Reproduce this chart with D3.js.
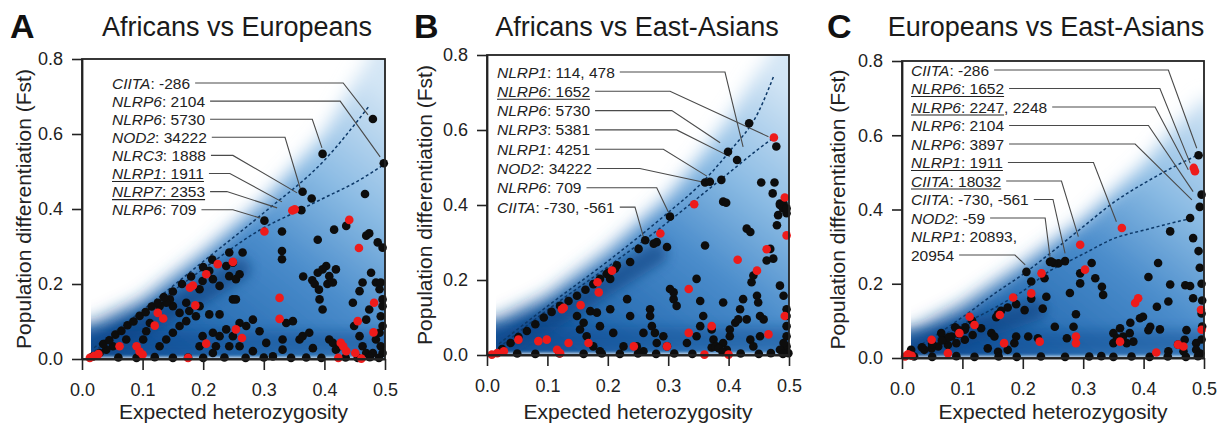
<!DOCTYPE html>
<html>
<head>
<meta charset="utf-8">
<script src="https://cdn.jsdelivr.net/npm/d3@7"></script>
<style>
  body { margin: 0; background: #fff; }
  text { font-family: "Liberation Sans", Arial, sans-serif; }
</style>
</head>
<body>
<svg id="fig" width="1225" height="439"></svg>
<script>
// ---- data ----
var ticksX = [0, 0.1, 0.2, 0.3, 0.4, 0.5];
var ticksY = [0, 0.2, 0.4, 0.6, 0.8];
var letters = ['A', 'B', 'C'];
var titles = ['Africans vs Europeans', 'Africans vs East-Asians', 'Europeans vs East-Asians'];
var xLabel = 'Expected heterozygosity';
var yLabel = 'Population differentiation (Fst)';

// [He, Fst]
var blackA = [[.301,.369],[.362,.397],[.330,.340],[.330,.288],[.330,.266],[.389,.318],[.416,.345],[.436,.355],[.469,.329],[.474,.335],[.488,.311],[.496,.297],[.365,.220],[.380,.210],[.384,.200],[.389,.230],[.391,.185],[.405,.200],[.397,.547],[.480,.640],[.498,.522],[.364,.446],[.379,.428],[.467,.440],
  [.243,.284],[.249,.257],[.265,.284],[.238,.248],[.243,.221],[.254,.213],[.260,.226],[.227,.195],[.199,.208],[.210,.235],[.194,.186],[.216,.213],[.172,.150],[.177,.128],[.194,.141],[.188,.114],[.161,.123],[.150,.141],[.145,.159],[.139,.150],[.128,.141],[.112,.096],[.106,.074],[.101,.052],[.128,.034],[.139,.052],[.150,.070],[.161,.088],[.172,.101],[.073,.052],[.051,.034],[.040,.025],[.029,.016],[.018,.007],
  [.210,.119],[.227,.119],[.249,.159],[.254,.159],[.260,.096],[.271,.088],[.282,.105],[.293,.074],[.216,.070],[.227,.061],[.238,.079],[.249,.061],[.221,.034],[.243,.034],[.260,.034],[.199,.061],[.194,.034],[.216,.016],[.282,.021],[.304,.043],[.315,.007],[.331,.052],[.331,.025],[.348,.101],[.359,.052],[.364,.061],[.375,.070],[.381,.029],[.392,.159],[.397,.132],[.408,.052],[.414,.043],[.419,.025],[.425,.034],
  [.447,.150],[.458,.181],[.463,.204],[.469,.105],[.474,.132],[.477,.230],[.485,.204],[.491,.186],[.485,.052],[.491,.070],[.493,.034],[.496,.016],[.496,.088],[.493,.114],[.496,.141],[.496,.159],[.493,.204],[.449,.088],[.458,.061],[.463,.034],[.469,.016],[.480,.016],[.408,.221],[.414,.204],[.419,.239],[.403,.248],[.397,.239],[.337,.096],
  [.035,.040],[.045,.050],[.055,.065],[.065,.075],[.075,.090],[.085,.100],[.095,.115],[.105,.125],[.115,.140],[.125,.150],[.135,.165],[.150,.180],[.165,.200],[.180,.220],[.200,.245],[.215,.265],
  [.060,.004],[.090,.003],[.120,.005],[.150,.003],[.175,.004],[.200,.003],[.235,.004],[.270,.003],[.300,.004],[.345,.003],[.370,.004],[.395,.003],[.435,.004],[.455,.003],[.475,.005],[.490,.003]];
var redA = [[.301,.340],[.347,.396],[.351,.399],[.441,.371],[.457,.296],[.326,.163],[.326,.107],[.187,.143],[.205,.226],[.224,.253],[.249,.259],[.183,.196],[.178,.190],[.125,.123],[.134,.108],[.120,.089],[.254,.079],[.264,.056],[.205,.041],[.455,.101],[.482,.150],[.481,.071],[.427,.043],[.431,.034],[.436,.021],[.451,.016],[.062,.034],[.090,.034],[.095,.020],[.100,.012],[.013,.003],[.020,.008],[.027,.013],[.175,.003],[.423,.003],[.461,.001]];

var blackB = [[.434,.618],[.399,.542],[.414,.520],[.479,.556],[.361,.460],[.369,.462],[.388,.467],[.454,.460],[.476,.460],[.473,.431],[.391,.409],[.396,.406],[.485,.404],[.490,.391],[.496,.378],
  [.303,.369],[.298,.288],[.281,.301],[.276,.297],[.262,.306],[.251,.283],[.237,.248],[.215,.239],[.204,.203],[.212,.230],[.201,.220],
  [.025,.016],[.039,.032],[.052,.048],[.066,.064],[.080,.082],[.094,.100],[.107,.115],[.121,.131],[.135,.144],[.149,.158],[.163,.174],[.176,.189],[.187,.203],[.198,.216],
  [.149,.104],[.160,.086],[.154,.068],[.165,.050],[.176,.023],[.187,.010],[.171,.117],[.182,.113],[.204,.122],[.187,.077],[.209,.059],[.232,.149],[.237,.104],[.259,.059],[.248,.023],[.259,.010],[.226,.023],
  [.270,.122],[.270,.104],[.273,.077],[.278,.059],[.281,.032],[.292,.050],[.298,.023],[.309,.149],[.314,.131],[.309,.167],[.303,.176],
  [.331,.032],[.347,.050],[.353,.077],[.358,.104],[.361,.292],[.372,.068],[.375,.041],[.380,.023],[.391,.032],[.397,.014],[.402,.050],[.347,.203],[.353,.144],
  [.391,.140],[.402,.068],[.411,.086],[.416,.095],[.419,.122],[.424,.149],[.430,.095],[.436,.041],[.441,.023],[.452,.050],
  [.430,.337],[.436,.328],[.438,.194],[.441,.212],[.447,.158],[.449,.140],[.452,.104],[.458,.095],[.463,.252],
  [.480,.346],[.482,.373],[.485,.400],[.491,.404],[.496,.391],
  [.485,.185],[.491,.158],[.496,.122],[.496,.104],[.496,.077],[.496,.050],[.496,.023],[.499,.005],[.491,.032],[.485,.014],[.469,.283],[.474,.257],
  [.050,.004],[.080,.003],[.120,.004],[.160,.003],[.190,.004],[.220,.003],[.250,.004],[.280,.003],[.310,.004],[.340,.003],[.372,.020],[.378,.022],[.384,.018],[.390,.008],[.420,.004],[.450,.003],[.470,.005],[.490,.003]];
var redB = [[.475,.580],[.343,.402],[.493,.420],[.287,.324],[.496,.319],[.415,.254],[.447,.225],[.463,.282],[.334,.176],[.183,.194],[.185,.167],[.207,.225],[.127,.126],[.124,.122],[.155,.133],[.168,.032],[.085,.037],[.099,.041],[.116,.014],[.121,.005],[.135,.032],[.052,.041],[.243,.023],[.298,.023],[.334,.059],[.372,.077],[.466,.055],[.493,.104],[.028,.010],[.017,.005],[.008,.001],[.360,.001],[.400,.001]];

var blackC = [[.491,.546],[.496,.440],[.493,.407],[.477,.377],[.444,.341],[.482,.323],[.491,.288],[.493,.243],[.424,.256],[.408,.218],[.444,.198],[.469,.196],[.477,.194],[.482,.161],[.441,.152],[.422,.138],[.394,.107],[.399,.111],[.378,.095],[.411,.084],[.408,.075],[.427,.077],
  [.361,.080],[.350,.067],[.356,.053],[.366,.058],[.377,.067],[.383,.044],[.350,.040],[.372,.040],
  [.314,.256],[.295,.228],[.320,.215],[.295,.201],[.331,.192],[.333,.170],[.278,.175],[.288,.118],[.284,.084],[.273,.053],[.253,.084],[.270,.261],[.259,.255],[.251,.256],[.245,.259],
  [.471,.075],[.468,.049],[.487,.040],[.457,.036],[.487,.022],[.441,.018],[.466,.018],
  [.496,.200],[.497,.155],[.496,.120],[.497,.085],[.496,.050],[.494,.012],
  [.247,.260],[.206,.232],[.214,.206],[.236,.215],[.239,.165],[.233,.133],[.214,.160],[.203,.129],[.189,.145],[.175,.136],[.164,.127],[.159,.118],[.156,.110],
  [.131,.080],[.117,.062],[.104,.049],[.090,.040],[.076,.035],[.060,.031],[.049,.026],[.037,.022],[.015,.022],[.082,.058],[.071,.049],[.093,.076],[.104,.076],[.065,.067],
  [.142,.026],[.159,.017],[.175,.022],[.186,.040],[.189,.058],[.209,.058],[.225,.053],[.148,.067],[.153,.058],
  [.094,.065],[.077,.056],[.066,.047],[.105,.083],[.116,.101],[.088,.083],[.050,.038],[.033,.029],
  [.020,.004],[.050,.003],[.090,.005],[.120,.003],[.160,.004],[.190,.003],[.230,.004],[.270,.003],[.310,.004],[.330,.005],[.350,.003],[.380,.004],[.410,.003],[.440,.004],[.470,.003],[.490,.005]];
var redC = [[.483,.512],[.485,.503],[.364,.350],[.295,.305],[.303,.238],[.386,.148],[.391,.161],[.288,.058],[.288,.040],[.361,.044],[.421,.015],[.457,.036],[.466,.031],[.495,.130],[.496,.076],
  [.231,.228],[.214,.174],[.184,.163],[.162,.116],[.112,.111],[.120,.089],[.095,.067],[.076,.013],[.049,.049],[.169,.040],[.228,.044],[.010,.010],[.016,.006],[.005,.004]];

// dashed guide curves
var hiA = [[.02,.03],[.1,.13],[.2,.26],[.3,.39],[.4,.53],[.474,.675]];
var loA = [[.02,.02],[.1,.12],[.2,.24],[.3,.35],[.35,.39],[.4,.43],[.45,.47],[.5,.52]];
var hiB = [[.02,.03],[.1,.13],[.2,.25],[.3,.38],[.35,.45],[.4,.54],[.45,.65],[.475,.745]];
var loB = [[.02,.02],[.1,.12],[.2,.235],[.3,.355],[.35,.42],[.4,.485],[.45,.55],[.475,.58]];
var hiC = [[.01,.015],[.05,.055],[.1,.11],[.159,.18],[.2,.225],[.243,.279],[.298,.351],[.353,.422],[.4,.47],[.45,.515],[.485,.543]];
var loC = [[.01,.012],[.05,.045],[.1,.09],[.159,.14],[.2,.18],[.247,.237],[.278,.262],[.3,.28],[.351,.322],[.405,.346],[.45,.365],[.474,.374]];

// upper edge of the blue density and its dark ridge
var edgeA = [[.015,.09],[.1,.155],[.2,.28],[.3,.42],[.4,.60],[.45,.74],[.5,.88]];
var edgeB = [[.015,.09],[.1,.155],[.2,.275],[.3,.42],[.35,.52],[.4,.63],[.45,.76],[.5,.88]];
var edgeC = [[.015,.07],[.1,.14],[.2,.25],[.3,.37],[.4,.52],[.45,.62],[.5,.70]];
var ridgeA = [[.02,.015],[.1,.09],[.2,.18],[.26,.24]];
var ridgeB = [[.02,.015],[.1,.09],[.2,.19],[.28,.27]];
var ridgeC = [[.02,.015],[.08,.05],[.15,.09],[.22,.13]];

// annotations: gene, value, trailing text, underlined, elbow He, end [He, Fst]
var labelsA = [
  {gene:'CIITA', val:'-286', rest:'', ul:false, elbow:.431, end:[.472,.651]},
  {gene:'NLRP6', val:'2104', rest:'', ul:false, elbow:.426, end:[.492,.539]},
  {gene:'NLRP6', val:'5730', rest:'', ul:false, elbow:.380, end:[.396,.563]},
  {gene:'NOD2', val:'34222', rest:'', ul:false, elbow:.335, end:[.360,.456]},
  {gene:'NLRC3', val:'1888', rest:'', ul:false, elbow:.249, end:[.355,.443]},
  {gene:'NLRP1', val:'1911', rest:'', ul:true, elbow:.244, end:[.330,.419]},
  {gene:'NLRP7', val:'2353', rest:'', ul:true, elbow:.239, end:[.322,.403]},
  {gene:'NLRP6', val:'709', rest:'', ul:false, elbow:.249, end:[.294,.376]}
];
var labelsB = [
  {gene:'NLRP1', val:'114', rest:', 478', ul:false, elbow:.394, end:[.424,.555]},
  {gene:'NLRP6', val:'1652', rest:'', ul:true, elbow:.303, end:[.466,.582]},
  {gene:'NLRP6', val:'5730', rest:'', ul:false, elbow:.306, end:[.386,.566]},
  {gene:'NLRP3', val:'5381', rest:'', ul:false, elbow:.314, end:[.402,.529]},
  {gene:'NLRP1', val:'4251', rest:'', ul:false, elbow:.292, end:[.364,.477]},
  {gene:'NOD2', val:'34222', rest:'', ul:false, elbow:.253, end:[.355,.462]},
  {gene:'NLRP6', val:'709', rest:'', ul:false, elbow:.281, end:[.300,.382]},
  {gene:'CIITA', val:'-730', rest:', -561', ul:false, elbow:.245, end:[.259,.315]}
];
var labelsC = [
  {gene:'CIITA', val:'-286', rest:'', ul:false, elbow:.441, end:[.488,.565]},
  {gene:'NLRP6', val:'1652', rest:'', ul:true, elbow:.427, end:[.477,.525]},
  {gene:'NLRP6', val:'2247', rest:', 2248', ul:true, elbow:.419, end:[.474,.507]},
  {gene:'NLRP6', val:'2104', rest:'', ul:false, elbow:.408, end:[.482,.448]},
  {gene:'NLRP6', val:'3897', rest:'', ul:false, elbow:.386, end:[.480,.426]},
  {gene:'NLRP1', val:'1911', rest:'', ul:true, elbow:.317, end:[.355,.367]},
  {gene:'CIITA', val:'18032', rest:'', ul:true, elbow:.264, end:[.292,.327]},
  {gene:'CIITA', val:'-730', rest:', -561', ul:false, elbow:.250, end:[.270,.282]},
  {gene:'NOD2', val:'-59', rest:'', ul:false, elbow:.237, end:[.245,.273]},
  {gene:'NLRP1', val:'20893,', rest:'', ul:false, next:'20954', elbow:.187, end:[.204,.251]}
];

// ---- layout ----
var panels = [
  {left:82, right:385, top:59, bottom:359, letterX:10, titleX:237, ylabX:24, textX:112, row0:83, gap:18.1,
   black:blackA, red:redA, hi:hiA, lo:loA, edge:edgeA, ridge:ridgeA, labels:labelsA},
  {left:487, right:789, top:55, bottom:355, letterX:414, titleX:637, ylabX:425, textX:497, row0:72, gap:19.3,
   black:blackB, red:redB, hi:hiB, lo:loB, edge:edgeB, ridge:ridgeB, labels:labelsB},
  {left:902, right:1204, top:61, bottom:358, letterX:827, titleX:1046, ylabX:838, textX:911, row0:70, gap:18.5,
   black:blackC, red:redC, hi:hiC, lo:loC, edge:edgeC, ridge:ridgeC, labels:labelsC}
];

var svg = d3.select('#fig');
var defs = svg.append('defs');

function blur(id, sd) {
  defs.append('filter').attr('id', id)
    .attr('filterUnits', 'userSpaceOnUse')
    .attr('x', 0).attr('y', 0).attr('width', 1225).attr('height', 439)
    .append('feGaussianBlur').attr('stdDeviation', sd);
}
blur('soft', 9);
blur('mid', 6);
blur('tiny', 1.5);

panels.forEach(function(p, i) {
  var x = d3.scaleLinear().domain([0, 0.5]).range([p.left, p.right]);
  var y = d3.scaleLinear().domain([0, 0.8]).range([p.bottom, p.top]);
  var g = svg.append('g');

  // clip for the density
  defs.append('clipPath').attr('id', 'clip' + i)
    .append('rect')
    .attr('x', x(0.015)).attr('y', y(0.8))
    .attr('width', x(0.5) - x(0.015)).attr('height', y(0) - y(0.8));

  var grad = defs.append('linearGradient').attr('id', 'grad' + i)
    .attr('gradientUnits', 'userSpaceOnUse')
    .attr('x1', x(0.48)).attr('y1', y(0.75))
    .attr('x2', x(0.12)).attr('y2', y(0.0));
  [[0, '#d4e6f5'], [0.3, '#8cbce4'], [0.55, '#4a8ccb'], [0.82, '#2a6fb4'], [1, '#14549c']]
    .forEach(function(s) { grad.append('stop').attr('offset', s[0]).attr('stop-color', s[1]); });

  var dens = g.append('g').attr('clip-path', 'url(#clip' + i + ')');
  var last = p.edge[p.edge.length - 1];
  var poly = [[-0.05, -0.05], [-0.05, p.edge[0][1]]].concat(p.edge)
    .concat([[0.6, last[1]], [0.6, -0.05]]);
  var line = d3.line().x(function(d) { return x(d[0]); }).y(function(d) { return y(d[1]); });

  dens.append('path').attr('d', line(poly) + 'Z')
    .attr('fill', 'url(#grad' + i + ')').attr('filter', 'url(#soft)');
  // darker ridge under the diagonal
  dens.append('path').attr('d', line(p.ridge))
    .attr('fill', 'none').attr('stroke', '#0b3f7e').attr('stroke-width', 22)
    .attr('stroke-linecap', 'round').attr('opacity', 0.6).attr('filter', 'url(#mid)');
  // darker floor
  dens.append('rect')
    .attr('x', x(0)).attr('width', x(0.55) - x(0))
    .attr('y', y(0.075)).attr('height', y(0.012) - y(0.075))
    .attr('fill', '#0d4b91').attr('opacity', 0.45).attr('filter', 'url(#mid)');
  // pale strip on the axis
  dens.append('rect')
    .attr('x', x(0)).attr('width', x(0.55) - x(0))
    .attr('y', y(0.006)).attr('height', y(-0.01) - y(0.006))
    .attr('fill', '#ffffff').attr('opacity', 0.75).attr('filter', 'url(#tiny)');

  // dashed guides
  [p.hi, p.lo].forEach(function(c) {
    g.append('path').attr('d', d3.line().curve(d3.curveMonotoneX)
        .x(function(d) { return x(d[0]); }).y(function(d) { return y(d[1]); })(c))
      .attr('fill', 'none').attr('stroke', '#0c3868').attr('stroke-width', 1.5)
      .attr('stroke-dasharray', '3,2.5');
  });

  // leader lines + labels
  p.labels.forEach(function(l, k) {
    var cy = p.row0 + k * p.gap;
    var t = g.append('text').attr('x', p.textX).attr('y', cy + 5.5)
      .attr('font-size', 15.5).attr('fill', '#222');
    t.append('tspan').attr('font-style', 'italic').text(l.gene);
    t.append('tspan').text(': ' + l.val);
    if (l.rest) t.append('tspan').text(l.rest);
    var node = t.node();
    if (l.ul) {
      var uw = node.getSubStringLength(0, l.gene.length + 2 + l.val.length);
      g.append('line').attr('x1', p.textX).attr('x2', p.textX + uw)
        .attr('y1', cy + 8).attr('y2', cy + 8)
        .attr('stroke', '#222').attr('stroke-width', 1.1);
    }
    var endX = p.textX + node.getComputedTextLength();
    var lineY = cy;
    if (l.next) {
      lineY = cy + p.gap;
      var t2 = g.append('text').attr('x', p.textX).attr('y', lineY + 5.5)
        .attr('font-size', 15.5).attr('fill', '#222').text(l.next);
      endX = p.textX + t2.node().getComputedTextLength();
    }
    g.append('path')
      .attr('d', 'M' + (endX + 5) + ',' + lineY + 'L' + x(l.elbow) + ',' + lineY +
        'L' + x(l.end[0]) + ',' + y(l.end[1]))
      .attr('fill', 'none').attr('stroke', '#4a4a4a').attr('stroke-width', 1.1);
  });

  // points
  g.append('g').selectAll('circle').data(p.black).enter().append('circle')
    .attr('cx', function(d) { return x(d[0]); }).attr('cy', function(d) { return y(d[1]); })
    .attr('r', 4.3).attr('fill', '#0d0d0d');
  g.append('g').selectAll('circle').data(p.red).enter().append('circle')
    .attr('cx', function(d) { return x(d[0]); }).attr('cy', function(d) { return y(d[1]); })
    .attr('r', 4.3).attr('fill', '#ee1b1b');

  // frame
  g.append('rect').attr('x', p.left).attr('y', p.top)
    .attr('width', p.right - p.left).attr('height', p.bottom - p.top)
    .attr('fill', 'none').attr('stroke', '#222').attr('stroke-width', 1.8);

  // axes
  var fmt = d3.format('.1f');
  var ax = g.append('g').attr('transform', 'translate(0,' + p.bottom + ')')
    .call(d3.axisBottom(x).tickValues(ticksX).tickFormat(fmt).tickSize(11).tickPadding(13).tickSizeOuter(0));
  var ay = g.append('g').attr('transform', 'translate(' + p.left + ',0)')
    .call(d3.axisLeft(y).tickValues(ticksY).tickFormat(fmt).tickSize(10).tickPadding(9).tickSizeOuter(0));
  [ax, ay].forEach(function(a) {
    a.select('.domain').attr('stroke', '#222').attr('stroke-width', 1.8);
    a.selectAll('.tick line').attr('stroke', '#222').attr('stroke-width', 1.6);
    a.selectAll('.tick text').attr('font-size', 18).attr('fill', '#222')
      .attr('font-family', '"Liberation Sans", Arial, sans-serif');
  });

  // labels
  g.append('text').attr('x', (p.left + p.right) / 2).attr('y', 419)
    .attr('text-anchor', 'middle').attr('font-size', 21).attr('fill', '#222').text(xLabel);
  g.append('text').attr('transform', 'translate(' + p.ylabX + ',' + ((p.top + p.bottom) / 2) + ') rotate(-90)')
    .attr('dy', '0.35em').attr('text-anchor', 'middle').attr('font-size', 21).attr('fill', '#222').text(yLabel);
  g.append('text').attr('x', p.titleX).attr('y', 36).attr('text-anchor', 'middle')
    .attr('font-size', 27).attr('fill', '#1a1a1a').text(titles[i]);
  g.append('text').attr('x', p.letterX).attr('y', 38)
    .attr('font-size', 34).attr('font-weight', 'bold').attr('fill', '#111').text(letters[i]);
});
</script>
</body>
</html>
